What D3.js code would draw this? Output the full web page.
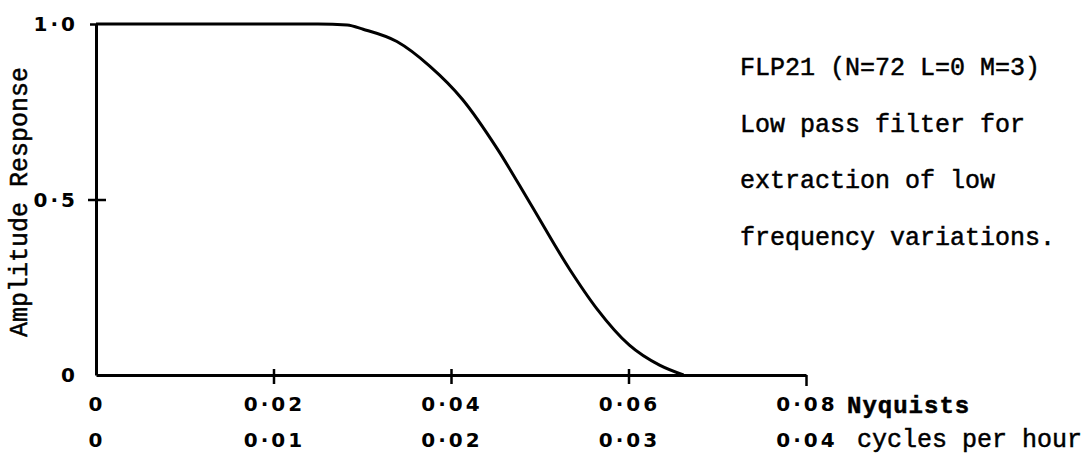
<html>
<head>
<script src="https://d3js.org/d3.v7.min.js"></script>
<style>
body { margin: 0; background: #fff; }
.tick-label { font-family: "DejaVu Sans", sans-serif; font-weight: bold; font-size: 20px; letter-spacing: 3px; fill: #000; }
.mono { font-family: "Liberation Mono", monospace; fill: #000; stroke: #000; stroke-width: 0.5px; }
</style>
</head>
<body>
<svg id="chart" width="1087" height="455"></svg>
<script>
// response curve (x in Nyquists)
var freq = [0, 0.025, 0.0283, 0.0301, 0.0339, 0.0376, 0.0413, 0.0452, 0.0489, 0.0534, 0.0564, 0.0601, 0.0635, 0.0662];
var amp  = [1, 1, 0.997, 0.985, 0.95, 0.88, 0.785, 0.645, 0.49, 0.30, 0.19, 0.085, 0.028, 0];

var nyqTicks = [0, 0.02, 0.04, 0.06, 0.08];
var nyqLabels = ["0", "0·02", "0·04", "0·06", "0·08"];
var cphLabels = ["0", "0·01", "0·02", "0·03", "0·04"];
var ampTicks = [0, 0.5, 1];
var ampLabels = ["0", "0·5", "1·0"];
var notes = ["FLP21 (N=72 L=0 M=3)", "Low pass filter for", "extraction of low", "frequency variations."];

var svg = d3.select("#chart");

var x = d3.scaleLinear().domain([0, 0.08]).range([96, 806]);
var y = d3.scaleLinear().domain([0, 1]).range([375, 24]);

// axes
var xAxis = svg.append("g")
    .attr("transform", "translate(0," + y(0) + ")")
    .call(d3.axisBottom(x).tickValues(nyqTicks).tickSize(0).tickSizeOuter(0).tickFormat(""));
xAxis.select(".domain").attr("stroke", "#000").attr("stroke-width", 3);
xAxis.selectAll(".tick line")
    .attr("stroke", "#000").attr("stroke-width", 2.5)
    .attr("y1", function(d) { return d === 0 ? 0 : (d === 0.08 ? 0 : -6); })
    .attr("y2", function(d) { return d === 0 ? 0 : (d === 0.08 ? 11 : 9); });

var yAxis = svg.append("g")
    .attr("transform", "translate(" + x(0) + ",0)")
    .call(d3.axisLeft(y).tickValues(ampTicks).tickSize(0).tickSizeOuter(0).tickFormat(""));
yAxis.select(".domain").attr("stroke", "#000").attr("stroke-width", 3);
yAxis.selectAll(".tick line")
    .attr("stroke", "#000").attr("stroke-width", 2.5)
    .attr("x1", function(d) { return d === 0.5 ? -8 : (d === 1 ? -6 : 0); })
    .attr("x2", function(d) { return d === 0.5 ? 10 : 0; });

// tick labels
svg.selectAll(".ylab")
    .data(ampTicks)
    .enter().append("text")
      .attr("class", "tick-label")
      .attr("x", 78)
      .attr("y", function(d) { return y(d) + 7; })
      .attr("text-anchor", "end")
      .text(function(d, i) { return ampLabels[i]; });

svg.selectAll(".xlab1")
    .data(nyqTicks)
    .enter().append("text")
      .attr("class", "tick-label")
      .attr("x", function(d) { return x(d) + 1; })
      .attr("y", 411)
      .attr("text-anchor", "middle")
      .text(function(d, i) { return nyqLabels[i]; });

svg.selectAll(".xlab2")
    .data(nyqTicks)
    .enter().append("text")
      .attr("class", "tick-label")
      .attr("x", function(d) { return x(d) + 1; })
      .attr("y", 447)
      .attr("text-anchor", "middle")
      .text(function(d, i) { return cphLabels[i]; });

svg.append("text").attr("class", "mono")
    .attr("x", 847).attr("y", 413)
    .style("font-size", "24px").style("font-weight", "bold").style("letter-spacing", "1px")
    .text("Nyquists");
svg.append("text").attr("class", "mono")
    .attr("x", 857).attr("y", 447)
    .style("font-size", "25px")
    .text("cycles per hour");

// y axis title
svg.append("text").attr("class", "mono")
    .attr("transform", "translate(27,202) rotate(-90)")
    .attr("text-anchor", "middle")
    .style("font-size", "25px")
    .text("Amplitude Response");

// annotation
svg.selectAll(".note")
    .data(notes)
    .enter().append("text")
      .attr("class", "mono")
      .attr("x", 740)
      .attr("y", function(d, i) { return 75 + i * 56.5; })
      .style("font-size", "25px")
      .text(function(d) { return d; });

// the curve
var pts = freq.map(function(f, i) { return [f, amp[i]]; });
var line = d3.line()
    .x(function(d) { return x(d[0]); })
    .y(function(d) { return y(d[1]); })
    .curve(d3.curveMonotoneX);

svg.append("path")
    .datum(pts)
    .attr("d", line)
    .attr("fill", "none")
    .attr("stroke", "#000")
    .attr("stroke-width", 3);
</script>
</body>
</html>
